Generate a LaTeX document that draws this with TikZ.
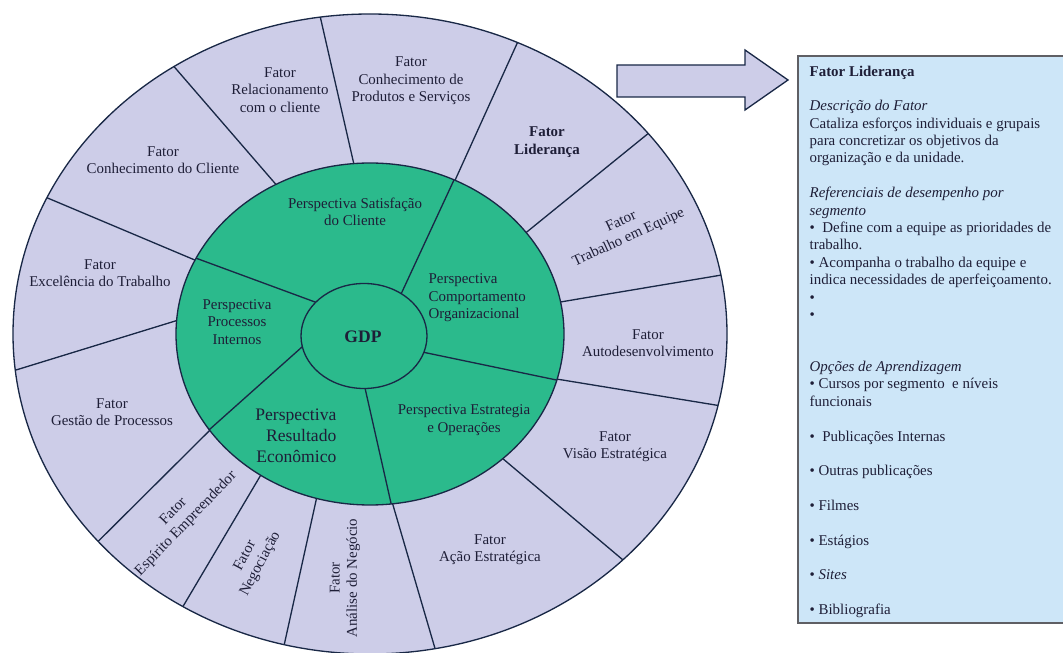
\documentclass[tikz,border=0pt]{standalone}
\usepackage{fontspec}
\setmainfont{Liberation Serif}

\definecolor{lilla}{RGB}{205,205,232}
\definecolor{verde}{RGB}{43,186,140}
\definecolor{azzurro}{RGB}{205,230,248}
\definecolor{bordo}{RGB}{25,40,70}
\definecolor{testo}{RGB}{30,30,55}
\definecolor{grigio}{RGB}{95,95,100}

\tikzset{
  fattore/.style={align=center, text=testo, inner sep=0pt,
    font=\fontsize{8.5}{9.9}\selectfont},
  grande/.style={fattore, font=\fontsize{10}{12}\selectfont},
}

\begin{document}
\begin{tikzpicture}[x=0.02cm, y=0.02cm, line width=0.75pt]
    \useasboundingbox (0,0) rectangle (1063,653);

    % Anello esterno
    \filldraw[fill=lilla, draw=bordo] (370,319) ellipse [x radius=357, y radius=320];

    \begin{scope}[shift={(370,319)}]
        % Raggi esterni
        \foreach \a/\b in {98/94.8, 123.3/119, 154.8/154.4, 186.5/175.5,
                           220.4/214.3, 238.4/235.7, 256.1/254, 280.5/276.7,
                           315.1/313.2, 347.1/344.7, 10.6/10.8, 38.8/36.4, 65.6/64}
            \draw[bordo] (\a:357 and 320) -- (\b:194 and 171);

        % Prospettive
        \fill[verde] (0,0) ellipse [x radius=194, y radius=171];
        \begin{scope}
            \clip (0,0) ellipse [x radius=194, y radius=171];
            \draw[bordo] (20.4,17) -- (90,167);
            \draw[bordo] (29.2,-13.2) -- (196,-48);
            \draw[bordo] (-10.6,-29.2) -- (23,-178);
            \draw[bordo] (-47.6,5.2) -- (-170,-104);
            \draw[bordo] (-28.4,22.2) -- (-188,81);
        \end{scope}
        \draw[bordo] (0,0) ellipse [x radius=194, y radius=171];

        % Centro
        \filldraw[fill=verde, draw=bordo] (-6,-2) ellipse [x radius=63, y radius=52.5];
    \end{scope}

    % Fattori
    \node[fattore] (rel) at (280,563) {Fator\\Relacionamento\\com o cliente};
    \node[fattore] (prod) at (411,572) {Fator\\Conhecimento de\\Produtos e Serviços};
    \node[fattore, font=\fontsize{8.5}{9.9}\selectfont\bfseries] (lid) at (547,511) {Fator\\Liderança};
    \node[fattore, rotate=25] (equipe) at (625,423) {Fator\\Trabalho em Equipe};
    \node[fattore] (auto) at (648,310) {Fator\\Autodesenvolvimento};
    \node[fattore] (visao) at (615,206) {Fator\\Visão Estratégica};
    \node[fattore] (acao) at (490,103) {Fator\\Ação Estratégica};
    \node[fattore, rotate=90] (analise) at (345,75) {Fator\\Análise do Negócio};
    \node[fattore, rotate=62] (negoc) at (253,93) {Fator\\Negociação};
    \node[fattore, rotate=46] (espirito) at (180,135) {Fator\\Espírito Empreendedor};
    \node[fattore] (gestao) at (112,241) {Fator\\Gestão de Processos};
    \node[fattore] (excel) at (100,380) {Fator\\Excelência do Trabalho};
    \node[fattore] (cliente) at (163,493) {Fator\\Conhecimento do Cliente};

    % Prospettive
    \node[fattore] (satisf) at (355,441) {Perspectiva Satisfação\\do Cliente};
    \node[fattore, align=left, anchor=west] (comport) at (428,355) {Perspectiva\\Comportamento\\Organizacional};
    \node[fattore] (process) at (237,331) {Perspectiva\\Processos\\Internos};
    \node[fattore] (estrat) at (464,233) {Perspectiva Estrategia\\e Operações};
    \node[grande, align=right, anchor=east] (result) at (337,217) {Perspectiva\\Resultado\\Econômico};
    \node[grande, font=\fontsize{10}{12}\selectfont\bfseries] (gdp) at (363,316) {GDP};

    % Freccia
    \filldraw[fill=lilla, draw=bordo] (617,588) -- (745,588) -- (745,603) -- (788,573)
        -- (745,543) -- (745,556) -- (617,556) -- cycle;

    % Riquadro
    \filldraw[fill=azzurro, draw=grigio, line width=0.9pt] (798,597) rectangle (1070,30);
    \node[fattore, align=left, anchor=north west] (descr) at (809,588) {%
        \textbf{Fator Liderança}\\[9.87pt]
        \textit{Descrição do Fator}\\
        Cataliza esforços individuais e grupais\\
        para concretizar os objetivos da\\
        organização e da unidade.\\[9.87pt]
        \textit{Referenciais de desempenho por}\\
        \textit{segmento}\\
        •~ Define com a equipe as prioridades de\\
        trabalho.\\
        • Acompanha o trabalho da equipe e\\
        indica necessidades de aperfeiçoamento.\\
        •\\
        •\\[19.74pt]
        \textit{Opções de Aprendizagem}\\
        • Cursos por segmento~ e níveis\\
        funcionais\\[9.87pt]
        •~ Publicações Internas\\[9.87pt]
        • Outras publicações\\[9.87pt]
        • Filmes\\[9.87pt]
        • Estágios\\[9.87pt]
        • \textit{Sites}\\[9.87pt]
        • Bibliografia};
\end{tikzpicture}
\end{document}
